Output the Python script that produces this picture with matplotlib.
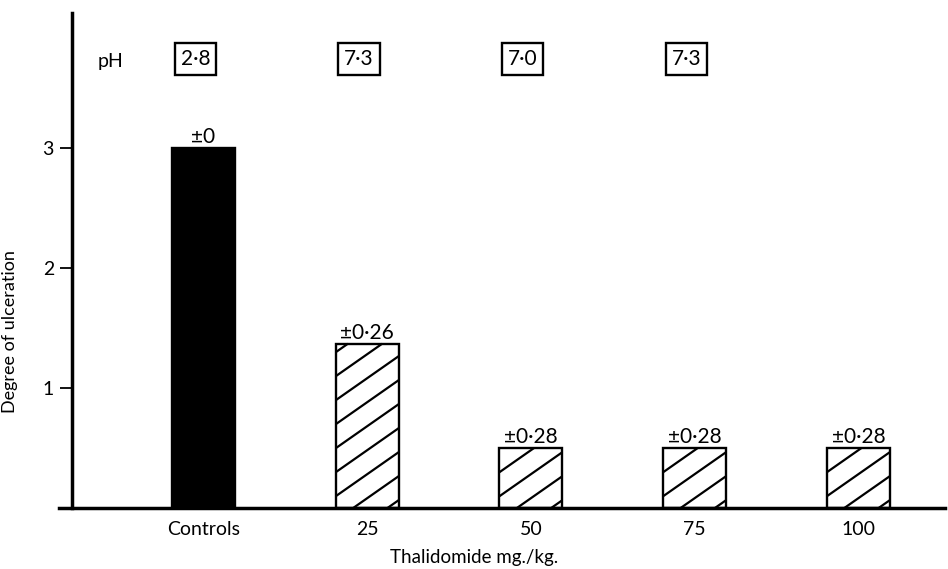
import matplotlib.pyplot as plt
import numpy as np
from matplotlib.collections import LineCollection

plt.rcParams['font.family'] = ['Lato', 'DejaVu Sans']

# data
groups = ['Controls', '25', '50', '75', '100']
ulceration = [3.0, 1.37, 0.5, 0.5, 0.5]
errors = ['±0', '±0·26', '±0·28', '±0·28', '±0·28']
ph_values = ['2·8', '7·3', '7·0', '7·3']

fig = plt.figure(figsize=(9.48, 5.69), dpi=100)
ax = fig.add_axes([0.076, 0.107, 0.921, 0.870])

x = np.arange(len(groups))
colors = ['black'] + ['white'] * (len(groups) - 1)
bars = ax.bar(x, ulceration, width=0.385, color=colors, edgecolor='black',
              linewidth=1.7, zorder=2)

ax.set_xlim(-0.803, 4.53)
ax.set_ylim(0, 4.125)

# sparse diagonal hatching, lines cut to each bar's outline
trans = ax.transData
inv = trans.inverted()
slope = 0.7
step = 24
for b in bars[1:]:
    (x0, y0), (x1, y1) = trans.transform([(b.get_x(), 0),
                                          (b.get_x() + b.get_width(), b.get_height())])
    segs = []
    for c in np.arange(y0 - slope * (x1 - x0) + 8, y1, step):
        xa = max(x0, x0 + (y0 - c) / slope)
        xb = min(x1, x0 + (y1 - c) / slope)
        if xb <= xa:
            continue
        p = inv.transform([(xa, c + slope * (xa - x0)), (xb, c + slope * (xb - x0))])
        segs.append(p)
    ax.add_collection(LineCollection(segs, colors='black', linewidths=1.6, zorder=3))

# error labels above bars
for xi, h, e in zip(x, ulceration, errors):
    ax.text(xi, h + 0.01, e, ha='center', va='bottom', fontsize=15)

# pH boxes
ax.text(-0.57, 3.72, 'pH', ha='center', va='center', fontsize=14)
for xi, ph in zip(x[:len(ph_values)], ph_values):
    ax.text(xi - 0.05, 3.74, ph, ha='center', va='center', fontsize=15,
            bbox=dict(boxstyle='square,pad=0.28', fc='white', ec='black', lw=1.7))

ax.spines['top'].set_visible(False)
ax.spines['right'].set_visible(False)
ax.spines['left'].set_linewidth(2.5)
ax.spines['bottom'].set_linewidth(2.5)
ax.spines['bottom'].set_bounds(-0.88, 4.53)

ax.set_yticks([1, 2, 3])
ax.set_yticklabels(['1', '2', '3'], fontsize=14)
ax.set_xticks(x)
ax.set_xticklabels(groups, fontsize=14)
ax.tick_params(axis='x', length=0, pad=9)
ax.tick_params(axis='y', length=9, width=1.3, pad=4)

ax.set_ylabel('Degree of ulceration', fontsize=13)
ax.yaxis.set_label_coords(-0.062, 0.356)
ax.set_xlabel('Thalidomide mg./kg.', fontsize=13.5)
ax.xaxis.set_label_coords(0.46, -0.083)

fig.savefig('out.png', dpi=100)
